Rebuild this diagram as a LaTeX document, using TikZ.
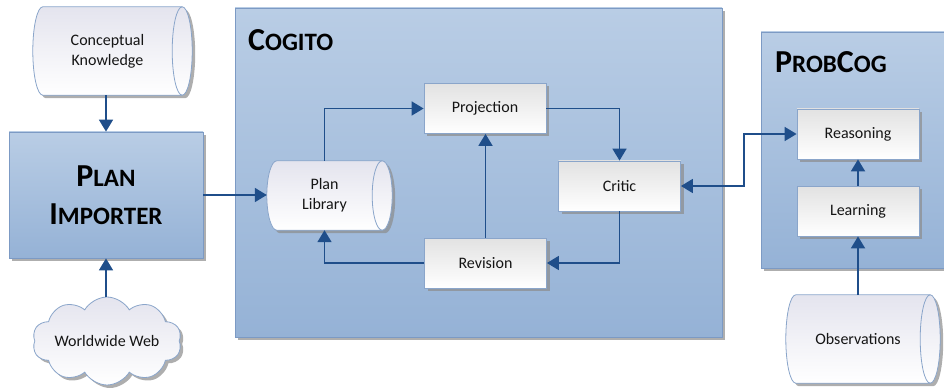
\documentclass[tikz,border=0pt]{standalone}
\usepackage{fontspec}
\setmainfont{Carlito}
\usetikzlibrary{arrows.meta,shapes.symbols,shadows,calc}
\definecolor{arrowblue}{HTML}{1F4E8A}
\definecolor{boxtop}{HTML}{B9CDE5}
\definecolor{boxbot}{HTML}{95B2D6}
\definecolor{boxline}{HTML}{7C9AC4}
\definecolor{intop}{HTML}{E2E2E2}
\definecolor{inline}{HTML}{8AA5CA}
\definecolor{cyltop}{HTML}{E4E4EE}
\definecolor{txt}{HTML}{151515}
\pgfdeclarelayer{back}\pgfdeclarelayer{mid}\pgfsetlayers{back,mid,main}
\newcommand\BigL[1]{{\fontsize{32}{38}\selectfont #1}}
\newcommand\SmL[1]{{\fontsize{25}{38}\selectfont #1}}
\newcommand\cylshape[1]{%
 \begin{pgfonlayer}{mid}
 \path[cylfill] let \p1=(#1.north west), \p2=(#1.south east), \n1={(\y1-\y2)/2} in
   (\x1+10pt,\y1) -- (\x2,\y1) arc[start angle=90,end angle=-90,x radius=10pt,y radius=\n1]
   -- (\x1+10pt,\y2) arc[start angle=270,end angle=90,x radius=10pt,y radius=\n1] -- cycle;
 \draw[cylline] let \p1=(#1.north west), \p2=(#1.south east), \n1={(\y1-\y2)/2} in
   (\x2,\y1) arc[start angle=90,end angle=270,x radius=10pt,y radius=\n1];
 \end{pgfonlayer}}
\tikzset{
  shadowA/.style={drop shadow={shadow xshift=3pt,shadow yshift=-3pt,fill=black!45,opacity=.7}},
  bigbox/.style={draw=boxline, line width=.8pt, top color=boxtop, bottom color=boxbot, shadowA, inner sep=0pt},
  inbox/.style={draw=inline, line width=.8pt, top color=intop, bottom color=white, shadowA,
     minimum width=122, minimum height=50, inner sep=0pt, font=\fontsize{16}{20}\selectfont, text=txt},
  cylbody/.style={inner sep=0pt, align=center, font=\fontsize{16}{20}\selectfont, text=txt},
  cylfill/.style={draw=inline, line width=.8pt, top color=cyltop, bottom color=white, shadowA},
  cylline/.style={draw=inline, line width=.8pt},
  cloudbox/.style={cloud, cloud puffs=10, cloud puff arc=120, cloud ignores aspect, draw=inline, line width=.8pt,
     top color=cyltop, bottom color=white, shadowA, minimum width=149, minimum height=88, inner sep=0pt,
     font=\fontsize{16}{20}\selectfont, text=txt},
  titletext/.style={anchor=base west, inner sep=0pt, font=\bfseries, text=black},
  tip/.tip={Triangle[length=12pt,width=14pt]},
  arr/.style={draw=arrowblue, line width=1.8pt, -tip},
  darr/.style={draw=arrowblue, line width=1.8pt, tip-tip}
}
\begin{document}
\begin{tikzpicture}[x=1pt,y=1pt]
\path[use as bounding box] (0,0) rectangle (944,-390);
% big containers
\begin{pgfonlayer}{back}
 \begin{scope}
 \clip (0,0) rectangle (944,-390);
 \node[bigbox, minimum width=487, minimum height=329] (cogito) at (478.5,-172.5) {};
 \node[bigbox, minimum width=200, minimum height=236] (probcog) at (861,-150) {};
 \end{scope}
\end{pgfonlayer}
\node[titletext] (cogtitle) at (248,-51) {\BigL{C}\SmL{OGITO}};
\node[titletext] (pctitle) at (775,-72.5) {\BigL{P}\SmL{ROB}\BigL{C}\SmL{OG}};
% plan importer
\node[bigbox, minimum width=194, minimum height=126, align=center, text=black,
      font=\bfseries\fontsize{25}{38}\selectfont] (pi) at (106,-195) {\BigL{P}\SmL{LAN}\\\BigL{I}\SmL{MPORTER}};
% cylinders
\node[cylbody, minimum width=149, minimum height=88] (ck) at (107.5,-51) {Conceptual\\Knowledge};
\cylshape{ck}
\node[cylbody, minimum width=115, minimum height=69] (lib) at (324.5,-195.5) {Plan\\Library};
\cylshape{lib}
\node[cylbody, minimum width=144, minimum height=88] (obs) at (858,-339) {Observations};
\cylshape{obs}
% cloud
\node[cloudbox] (www) at (107,-341) {Worldwide Web};
% inner boxes
\node[inbox] (proj) at (485,-108.5) {Projection};
\node[inbox] (critic) at (619.5,-186) {Critic};
\node[inbox] (rev) at (485.5,-263) {Revision};
\node[inbox] (reason) at (858,-134) {Reasoning};
\node[inbox] (learn) at (858,-211) {Learning};
% connectors
\draw[arr] (pi.north |- ck.south) -- (pi.north);
\draw[arr] (pi.south |- www.north) -- (pi.south);
\draw[arr] (pi.east) -- (pi.east -| lib.west);
\draw[arr] (lib.north) |- (proj.west);
\draw[arr] (proj.east) -| (critic.north);
\draw[arr] (critic.south) |- (rev.east);
\draw[arr] (rev.north) -- (rev.north |- proj.south);
\draw[arr] (rev.west) -| (lib.south);
\draw[darr] (critic.east) -- ++(63,0) |- (reason.west);
\draw[arr] (learn.north) -- (reason.south);
\draw[arr] (obs.north) -- (learn.south);
\end{tikzpicture}
\end{document}
